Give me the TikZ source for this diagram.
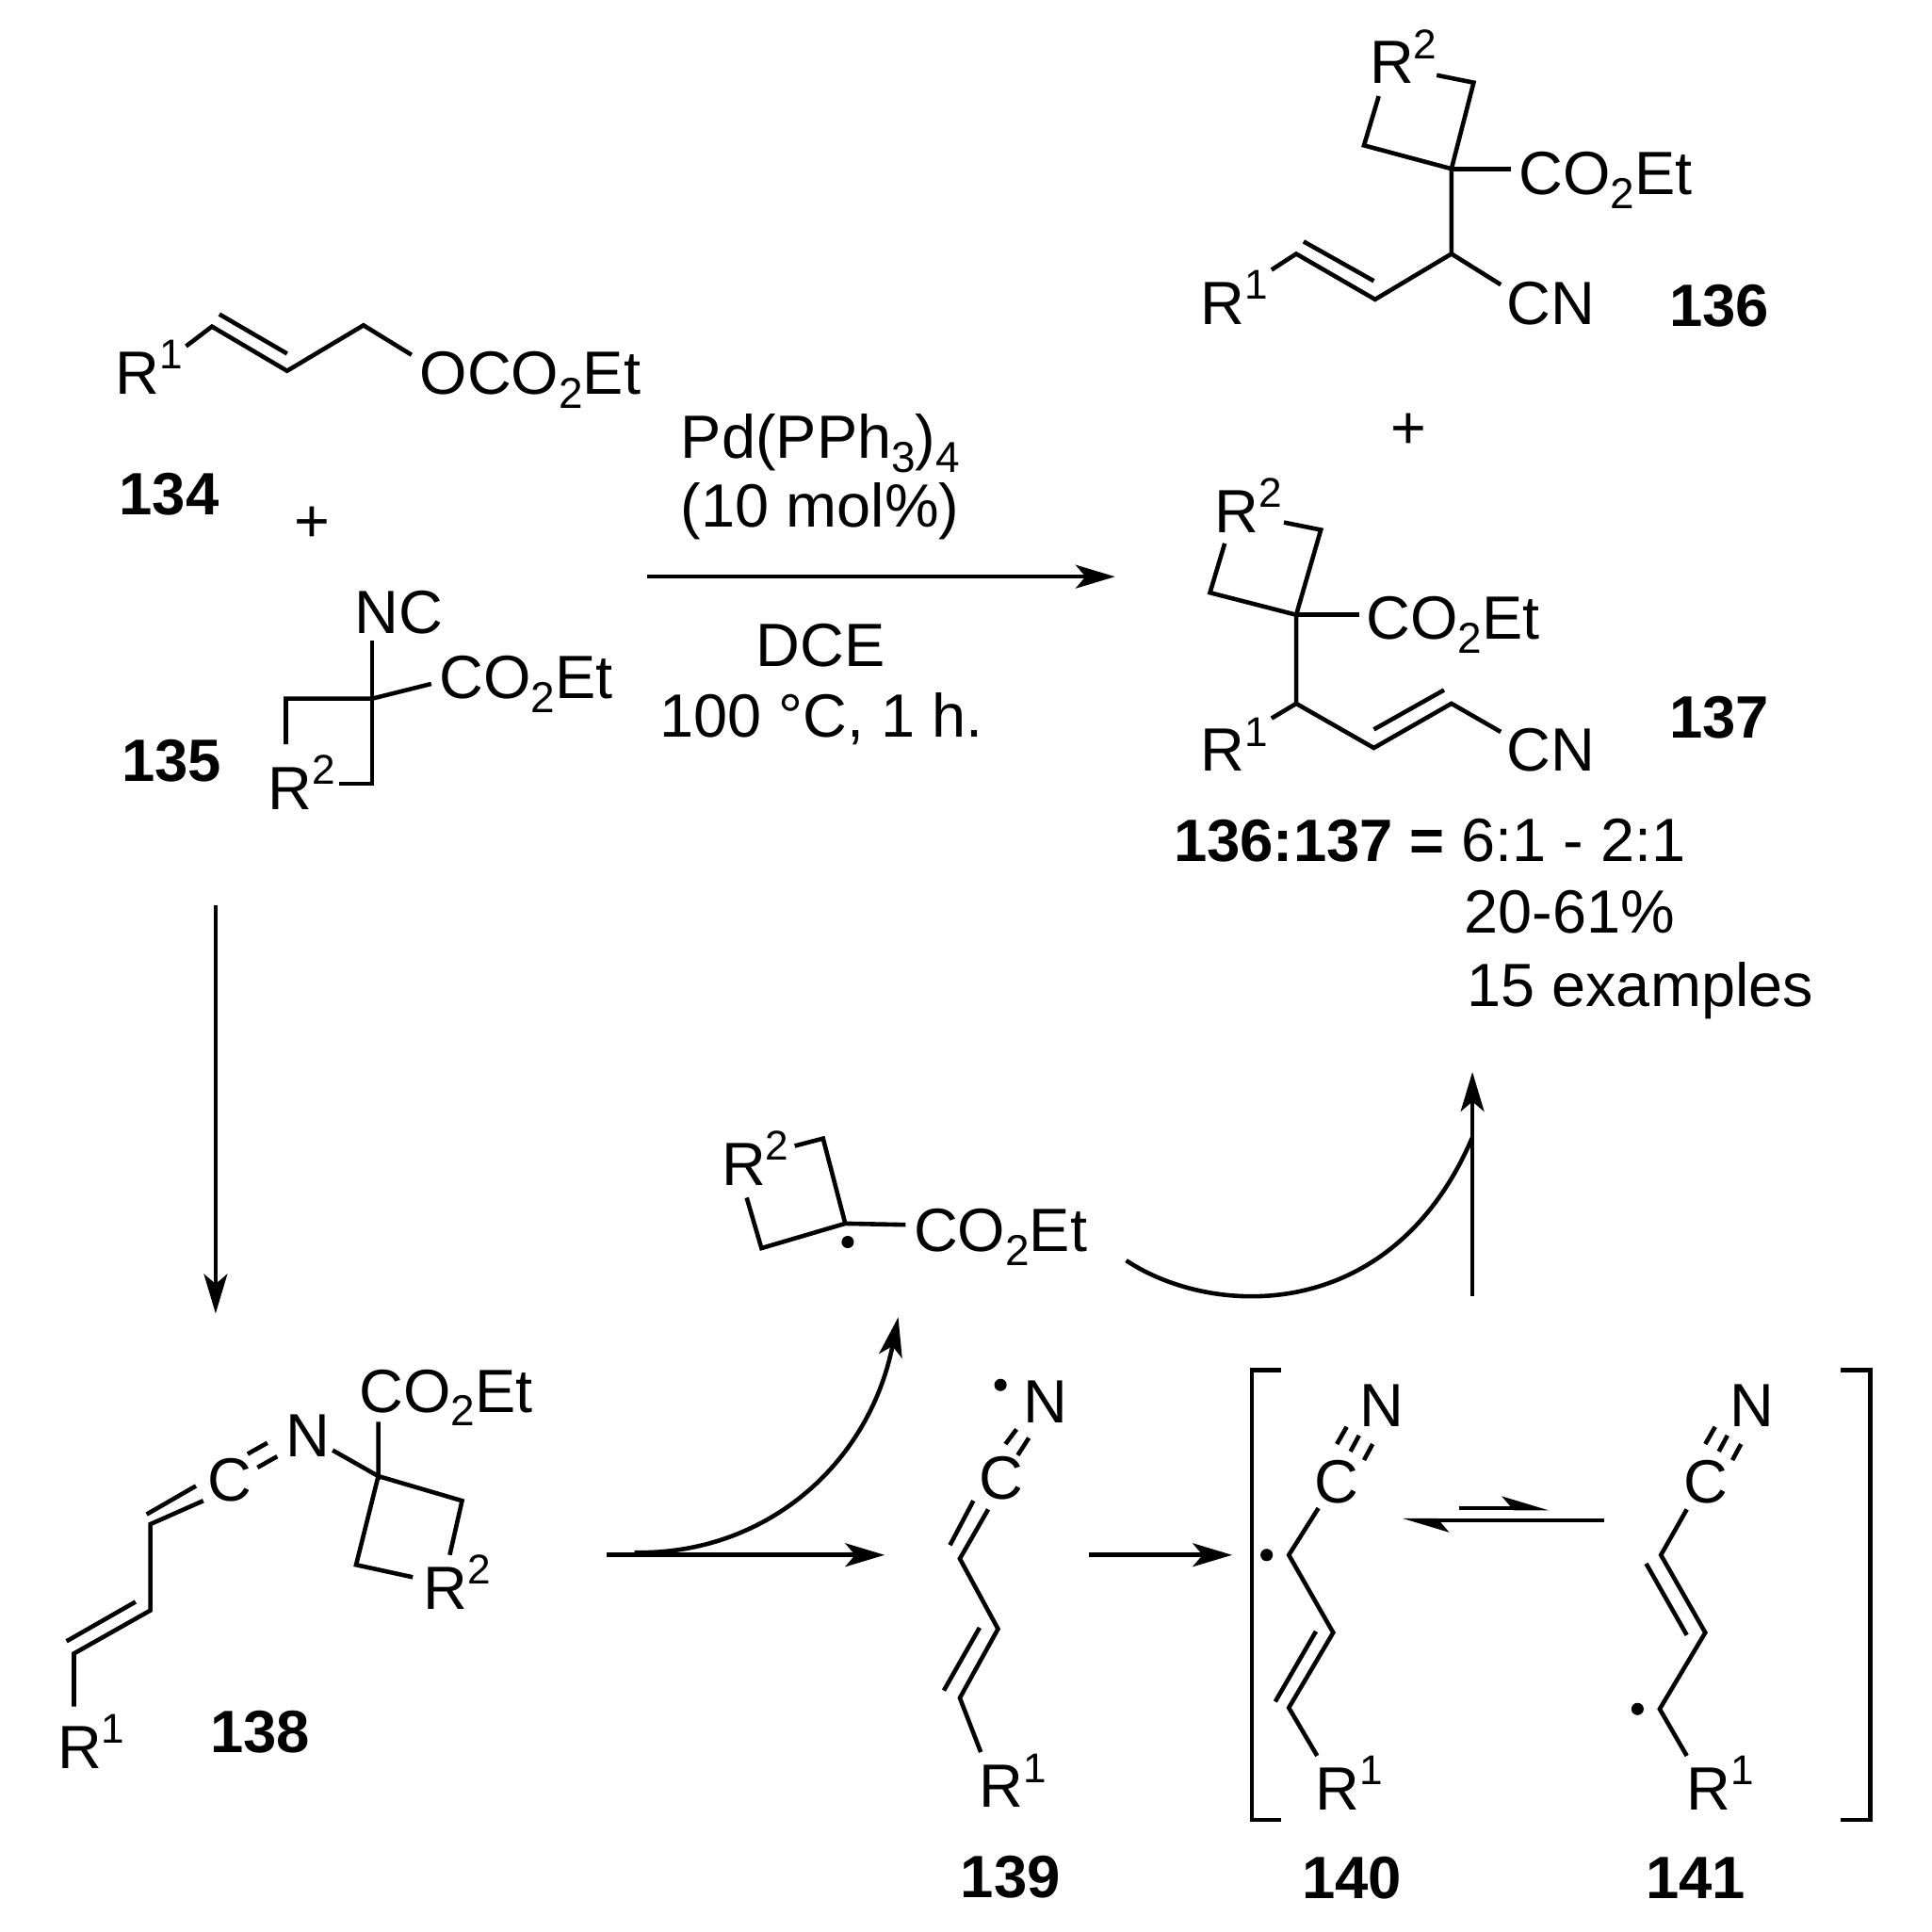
\documentclass[tikz,border=0pt]{standalone}
\usepackage{fontspec}
\setmainfont{Liberation Sans}
\usetikzlibrary{arrows.meta}
\newcommand{\supnum}[1]{\raisebox{5.8pt}{\fontsize{9.6}{10}\selectfont #1}}
\newcommand{\subnum}[1]{\raisebox{-3.2pt}{\fontsize{10}{10}\selectfont #1}}
\newcommand{\ester}{CO\subnum{2}Et}
\tikzset{
    bond/.style={line width=1pt,line join=miter},
    lab/.style={anchor=base west,inner sep=0pt,font=\fontsize{14.1}{17}\selectfont},
    num/.style={anchor=base west,inner sep=0pt,font=\fontsize{13.8}{17}\selectfont\bfseries},
    radical/.style={circle,fill=black,inner sep=0pt,minimum size=1mm},
    rxn/.style={line width=1pt,-{Stealth[length=3.2mm,width=1.9mm,inset=0.8mm]}},
    half/.style={line width=1pt,-{Stealth[harpoon,length=3.2mm,width=1.9mm,inset=0.8mm]}}
}
\begin{document}
\begin{tikzpicture}[x=0.1mm,y=-0.1mm]
    \useasboundingbox (0,0) rectangle (1568,1568);
    % 134
    \node[lab] (ra) at (93,320) {R\supnum{1}};
    \node[lab] (oco) at (340,320) {OCO\subnum{2}Et};
    \node[num] (n134) at (96,418) {134};
    \node[lab] (plusa) at (238,440) {+};
    \foreach \n/\x/\y in {a1/151/281,a2/172/265,a3/233/301,a4/295/264,a5/334/288,a6/178/255,a7/233/287}{
        \coordinate (\n) at (\x,\y);
    };
    \draw[bond] (a1)--(a2)--(a3)--(a4)--(a5);
    \draw[bond] (a6)--(a7);
    % 135
    \node[num] (n135) at (98,634) {135};
    \node[lab] (nc) at (287,514) {NC};
    \node[lab] (esb) at (356,567) {\ester};
    \node[lab] (rb) at (217,657) {R\supnum{2}};
    \foreach \n/\x/\y in {b1/302/520,b2/302/567,b3/302/636,b4/275/636,b5/232/567,b6/232/604,b7/350/555}{
        \coordinate (\n) at (\x,\y);
    };
    \draw[bond] (b1)--(b3)--(b4);
    \draw[bond] (b6)--(b5)--(b2)--(b7);
    % reagents
    \node[lab] (pd) at (552,372) {Pd(PPh\subnum{3})\subnum{4}};
    \node[lab] (mol) at (552,428) {(10 mol\%)};
    \node[lab] (dce) at (613,541) {DCE};
    \node[lab] (temp) at (535,598) {100 °C, 1 h.};
    \coordinate (c1) at (525,468);
    \coordinate (c2) at (905,468);
    \draw[rxn] (c1)--(c2);
    % 136
    \node[lab] (rc) at (1111,68) {R\supnum{2}};
    \node[lab] (esc) at (1232,158) {\ester};
    \node[lab] (rd) at (974,263) {R\supnum{1}};
    \node[lab] (cnd) at (1222,263) {CN};
    \node[num] (n136) at (1354,265) {136};
    \node[lab] (plusb) at (1128,364) {+};
    \foreach \n/\x/\y in {d1/1166/61,d2/1196/67,d3/1178/137,d4/1119/78,d5/1107/118,d6/1226/137,d7/1178/206,d8/1116/243,d9/1052/206,d10/1032/219,d11/1058/196,d12/1115/228,d13/1218/231}{
        \coordinate (\n) at (\x,\y);
    };
    \draw[bond] (d1)--(d2)--(d3)--(d5)--(d4);
    \draw[bond] (d3)--(d6);
    \draw[bond] (d3)--(d7)--(d8)--(d9)--(d10);
    \draw[bond] (d11)--(d12);
    \draw[bond] (d7)--(d13);
    % 137
    \node[lab] (re) at (985,432) {R\supnum{2}};
    \node[lab] (ese) at (1108,519) {\ester};
    \node[lab] (rf) at (974,626) {R\supnum{1}};
    \node[lab] (cnf) at (1222,626) {CN};
    \node[num] (n137) at (1354,599) {137};
    \foreach \n/\x/\y in {e1/1042/424,e2/1072/430,e3/1052/499,e4/994/441,e5/982/481,e6/1103/499,e7/1052/571,e8/1032/583,e9/1115/607,e10/1178/571,e11/1218/594,e12/1115/592,e13/1172/560}{
        \coordinate (\n) at (\x,\y);
    };
    \draw[bond] (e1)--(e2)--(e3)--(e5)--(e4);
    \draw[bond] (e3)--(e6);
    \draw[bond] (e3)--(e7)--(e8);
    \draw[bond] (e7)--(e9)--(e10)--(e11);
    \draw[bond] (e12)--(e13);
    % ratio
    \node[lab] (ratio) at (952,699) {{\fontsize{13.8}{17}\selectfont\bfseries 136:137 =} 6:1 - 2:1};
    \node[lab] (yield) at (1188,757) {20-61\%};
    \node[lab] (scope) at (1190,817) {15 examples};
    % down arrow
    \coordinate (f1) at (175,735);
    \coordinate (f2) at (175,1066);
    \draw[rxn] (f1)--(f2);
    % 138
    \node[lab] (rg) at (46,1435) {R\supnum{1}};
    \node[lab] (cg) at (168,1218) {C};
    \node[lab] (ng) at (231,1182) {N};
    \node[lab] (esg) at (291,1146) {\ester};
    \node[lab] (rh) at (343,1306) {R\supnum{2}};
    \node[num] (n138) at (170,1422) {138};
    \foreach \n/\x/\y in {g1/60/1385,g2/60/1342,g3/122/1307,g4/122/1237,g5/165/1218,g6/119/1229,g7/159/1206,g8/54/1332,g9/110/1300,g10/201/1180,g11/217/1171,g12/209/1191,g13/225/1182,g14/270/1177,g15/307/1198,g16/307/1154,g17/375/1218,g18/365/1262,g19/289/1270,g20/335/1280}{
        \coordinate (\n) at (\x,\y);
    };
    \draw[bond] (g1)--(g2)--(g3)--(g4)--(g5);
    \draw[bond] (g6)--(g7);
    \draw[bond] (g8)--(g9);
    \draw[bond] (g10)--(g11);
    \draw[bond] (g12)--(g13);
    \draw[bond] (g14)--(g15)--(g16);
    \draw[bond] (g18)--(g17)--(g15)--(g19)--(g20);
    % arrows 138 to 139
    \foreach \n/\x/\y in {h1/492/1262,h2/718/1262,h3/515/1260,h4/620/1262,h5/705/1190,h6/729/1069}{
        \coordinate (\n) at (\x,\y);
    };
    \draw[rxn] (h1)--(h2);
    \draw[rxn] (h3) .. controls (h4) and (h5) .. (h6);
    % radical with ester
    \node[lab] (ri) at (585,962) {R\supnum{2}};
    \node[lab] (esi) at (741,1016) {\ester};
    \node[radical] (doti) at (688,1008) {};
    \foreach \n/\x/\y in {i1/645/930,i2/668/924,i3/686/993,i4/618/1013,i5/606/972,i6/735/994}{
        \coordinate (\n) at (\x,\y);
    };
    \draw[bond] (i1)--(i2)--(i3)--(i4)--(i5);
    \draw[bond] (i3)--(i6);
    % arc and arrow up to products
    \foreach \n/\x/\y in {j1/914/1023,j2/985/1070,j3/1130/1075,j4/1195/923,j5/1195/1052,j6/1195/870}{
        \coordinate (\n) at (\x,\y);
    };
    \draw[bond] (j1) .. controls (j2) and (j3) .. (j4);
    \draw[rxn] (j5)--(j6);
    % 139
    \node[radical] (dotk) at (812,1124) {};
    \node[lab] (nk) at (830,1155) {N};
    \node[lab] (ck) at (794,1217) {C};
    \node[lab] (rk) at (794,1467) {R\supnum{1}};
    \node[num] (n139) at (779,1540) {139};
    \foreach \n/\x/\y in {k1/816/1172,k2/825/1160,k3/826/1181,k4/835/1167,k5/802/1225,k6/779/1265,k7/790/1218,k8/771/1254,k9/810/1322,k10/779/1378,k11/796/1422,k12/795/1321,k13/766/1372}{
        \coordinate (\n) at (\x,\y);
    };
    \draw[bond] (k1)--(k2);
    \draw[bond] (k3)--(k4);
    \draw[bond] (k5)--(k6)--(k9)--(k10)--(k11);
    \draw[bond] (k7)--(k8);
    \draw[bond] (k12)--(k13);
    % arrow to brackets and brackets
    \coordinate (l1) at (884,1262);
    \coordinate (l2) at (1000,1262);
    \draw[rxn] (l1)--(l2);
    \foreach \n/\x/\y in {l3/1040/1112,l4/1016/1112,l5/1016/1477,l6/1040/1477,l7/1494/1112,l8/1518/1112,l9/1518/1477,l10/1494/1477}{
        \coordinate (\n) at (\x,\y);
    };
    \draw[bond] (l3)--(l4)--(l5)--(l6);
    \draw[bond] (l7)--(l8)--(l9)--(l10);
    % 140
    \node[lab] (nm) at (1103,1158) {N};
    \node[lab] (cm) at (1066,1220) {C};
    \node[lab] (rm) at (1067,1469) {R\supnum{1}};
    \node[radical] (dotm) at (1028,1262) {};
    \node[num] (n140) at (1056,1541) {140};
    \foreach \n/\x/\y in {m1/1085/1172,m2/1093/1158,m3/1096/1178,m4/1103/1165,m5/1107/1185,m6/1114/1172,m7/1070/1224,m8/1046/1262,m9/1082/1325,m10/1046/1386,m11/1069/1425,m12/1068/1324,m13/1035/1381}{
        \coordinate (\n) at (\x,\y);
    };
    \foreach \s/\t in {m1/m2,m3/m4,m5/m6,m12/m13}{
        \draw[bond] (\s)--(\t);
    };
    \draw[bond] (m7)--(m8)--(m9)--(m10)--(m11);
    % equilibrium
    \foreach \n/\x/\y in {o1/1184/1224,o2/1257/1224,o3/1302/1234,o4/1138/1234}{
        \coordinate (\n) at (\x,\y);
    };
    \draw[half] (o1)--(o2);
    \draw[half] (o3)--(o4);
    % 141
    \node[lab] (np) at (1403,1158) {N};
    \node[lab] (cp) at (1366,1220) {C};
    \node[lab] (rp) at (1368,1469) {R\supnum{1}};
    \node[radical] (dotp) at (1329,1387) {};
    \node[num] (n141) at (1335,1541) {141};
    \foreach \n/\x/\y in {p1/1384/1172,p2/1392/1158,p3/1395/1178,p4/1402/1165,p5/1406/1185,p6/1413/1172,p7/1369/1225,p8/1348/1262,p9/1384/1325,p10/1347/1387,p11/1369/1425,p12/1336/1269,p13/1369/1327}{
        \coordinate (\n) at (\x,\y);
    };
    \foreach \s/\t in {p1/p2,p3/p4,p5/p6,p12/p13}{
        \draw[bond] (\s)--(\t);
    };
    \draw[bond] (p7)--(p8)--(p9)--(p10)--(p11);
\end{tikzpicture}
\end{document}
